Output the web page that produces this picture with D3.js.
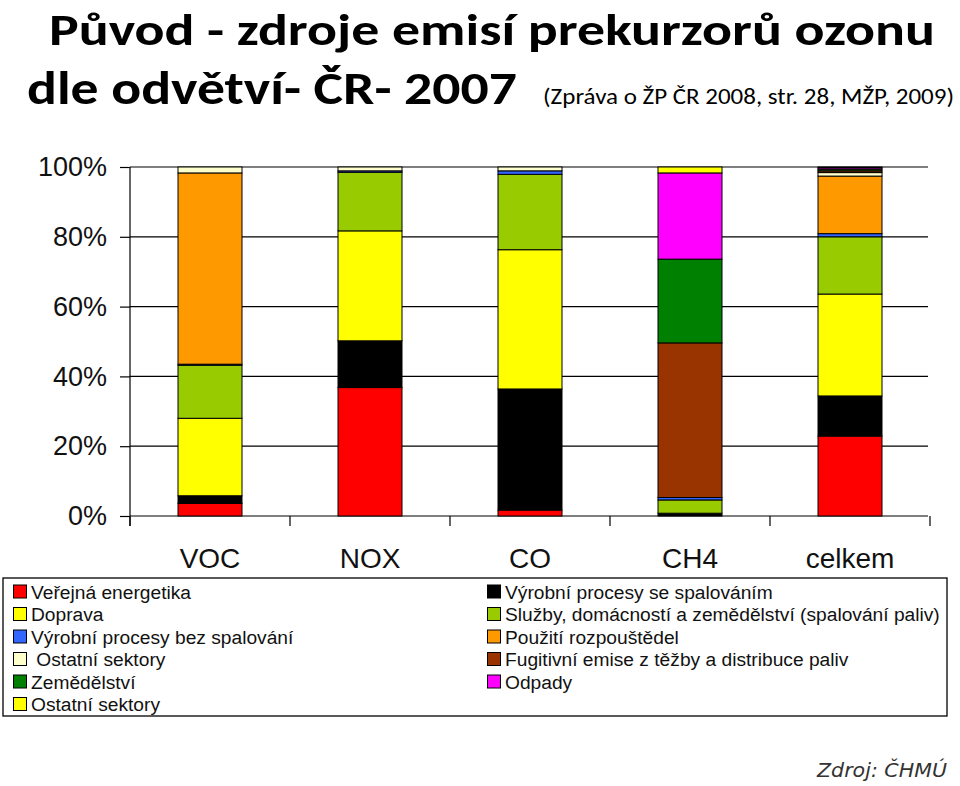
<!DOCTYPE html>
<html>
<head>
<meta charset="utf-8">
<script src="https://cdn.jsdelivr.net/npm/d3@7"></script>
<style>
  html, body { margin: 0; padding: 0; background: #fff; }
  svg { display: block; }
</style>
</head>
<body>
<svg id="chart" width="960" height="786"></svg>
<script>
// ---- DATA ----
const categories = ["VOC", "NOX", "CO", "CH4", "celkem"];
const seriesNames = [
  "Veřejná energetika",
  "Výrobní procesy se spalováním",
  "Doprava",
  "Služby, domácností a zemědělství (spalování paliv)",
  "Výrobní procesy bez spalování",
  "Použití rozpouštědel",
  " Ostatní sektory",
  "Fugitivní emise z těžby a distribuce paliv",
  "Zemědělství",
  "Odpady",
  "Ostatní sektory"
];
const seriesColors = ["#FF0000", "#000000", "#FFFF00", "#99CC00", "#3366FF", "#FF9900",
                      "#FFFFCC", "#993300", "#008000", "#FF00FF", "#FFFF00"];
// percent shares per category (VOC, NOX, CO, CH4, celkem)
const verejnaEnergetika   = [3.6, 36.8, 1.7, 0.0, 22.9];
const vyrobniSeSpalovanim = [2.2, 13.4, 34.7, 0.8, 11.5];
const doprava             = [22.2, 31.5, 39.9, 0.0, 29.2];
const sluzby              = [15.2, 16.8, 21.6, 3.8, 16.4];
const vyrobniBezSpalovani = [0.3, 0.4, 1.0, 0.7, 0.9];
const rozpoustedla        = [54.8, 0.0, 0.0, 0.0, 16.5];
const ostatniSektory1     = [1.7, 1.1, 1.1, 0.0, 1.0];
const fugitivni           = [0.0, 0.0, 0.0, 44.3, 0.5];
const zemedelstvi         = [0.0, 0.0, 0.0, 24.0, 0.5];
const odpady              = [0.0, 0.0, 0.0, 24.7, 0.4];
const ostatniSektory2     = [0.0, 0.0, 0.0, 1.7, 0.2];
const seriesValues = [verejnaEnergetika, vyrobniSeSpalovanim, doprava, sluzby, vyrobniBezSpalovani,
                      rozpoustedla, ostatniSektory1, fugitivni, zemedelstvi, odpady, ostatniSektory2];
const yTicks = [0, 20, 40, 60, 80, 100];
const titleLine1 = "Původ - zdroje emisí prekurzorů ozonu";
const titleLine2 = "dle odvětví- ČR- 2007";
const subtitle = "(Zpráva o ŽP ČR 2008, str. 28, MŽP, 2009)";
const sourceText = "Zdroj: ČHMÚ";

// ---- BUILD TABLE ----
const keys = seriesNames.map((_, i) => "s" + i);
const table = categories.map((c, ci) => {
  const row = { cat: c };
  keys.forEach((k, si) => row[k] = seriesValues[si][ci]);
  return row;
});
const stacked = d3.stack().keys(keys)(table);

const svg = d3.select("#chart");

// ---- TITLE ----
svg.append("text")
  .attr("x", 49).attr("y", 44.5)
  .attr("font-family", "Carlito, Lato, 'Open Sans', sans-serif")
  .attr("font-weight", "bold").attr("font-size", 45)
  .attr("textLength", 886).attr("lengthAdjust", "spacingAndGlyphs")
  .text(titleLine1);
svg.append("text")
  .attr("x", 27).attr("y", 104)
  .attr("font-family", "Carlito, Lato, 'Open Sans', sans-serif")
  .attr("font-weight", "bold").attr("font-size", 47)
  .attr("textLength", 490).attr("lengthAdjust", "spacingAndGlyphs")
  .text(titleLine2);
svg.append("text")
  .attr("x", 543).attr("y", 104)
  .attr("font-family", "Carlito, Lato, 'Open Sans', sans-serif")
  .attr("font-size", 22)
  .attr("textLength", 411).attr("lengthAdjust", "spacingAndGlyphs")
  .text(subtitle);

// ---- SCALES ----
const x = d3.scaleBand().domain(categories).range([130, 930]).paddingInner(0.6).paddingOuter(0.3);
const y = d3.scaleLinear().domain([0, 100]).range([516, 167]);

// gridlines
svg.append("g").selectAll("line").data(yTicks).join("line")
  .attr("x1", 130).attr("x2", 928)
  .attr("y1", d => y(d)).attr("y2", d => y(d))
  .attr("stroke", "#000").attr("stroke-width", 1.2);

// y axis
const yAxis = d3.axisLeft(y).tickValues(yTicks).tickSize(10).tickPadding(13)
  .tickFormat(d => d + "%");
const gy = svg.append("g").attr("transform", "translate(130,0)").call(yAxis);
gy.select(".domain").remove();
gy.selectAll(".tick line").attr("stroke", "#000").attr("stroke-width", 1.2);
gy.selectAll(".tick text")
  .attr("font-family", "'Liberation Sans', Arial, sans-serif")
  .attr("font-size", 27).attr("fill", "#111");
svg.append("line").attr("x1", 130).attr("x2", 130).attr("y1", 167).attr("y2", 526)
  .attr("stroke", "#000").attr("stroke-width", 1.2);

// x axis ticks at band boundaries
const bounds = d3.range(categories.length + 1).map(i => x.range()[0] + i * x.step());
svg.append("g").selectAll("line").data(bounds).join("line")
  .attr("x1", d => d).attr("x2", d => d).attr("y1", 516).attr("y2", 526)
  .attr("stroke", "#000").attr("stroke-width", 1.2);
svg.append("g").selectAll("text").data(categories).join("text")
  .attr("x", d => x(d) + x.bandwidth() / 2).attr("y", 568)
  .attr("text-anchor", "middle")
  .attr("font-family", "'Liberation Sans', Arial, sans-serif")
  .attr("font-size", 28).attr("fill", "#111")
  .text(d => d);

// ---- BARS ----
svg.append("g").selectAll("g").data(stacked).join("g")
  .attr("fill", (d, i) => seriesColors[i])
  .selectAll("rect").data(d => d.filter(p => p[1] - p[0] > 0)).join("rect")
  .attr("x", p => x(p.data.cat))
  .attr("width", x.bandwidth())
  .attr("y", p => y(p[1]))
  .attr("height", p => y(p[0]) - y(p[1]))
  .attr("stroke", "#000").attr("stroke-width", 1);

// ---- LEGEND ----
svg.append("rect").attr("x", 3).attr("y", 578).attr("width", 944).attr("height", 138)
  .attr("fill", "none").attr("stroke", "#000").attr("stroke-width", 1.3);
const legend = svg.append("g").selectAll("g").data(seriesNames).join("g")
  .attr("transform", (d, i) => {
    const col = i % 2, row = Math.floor(i / 2);
    return `translate(${col === 0 ? 13.5 : 487.5},${591.5 + row * 22.5})`;
  });
legend.append("rect").attr("x", 0).attr("y", -6.5).attr("width", 13).attr("height", 13)
  .attr("fill", (d, i) => seriesColors[i]).attr("stroke", "#000").attr("stroke-width", 1);
legend.append("text").attr("x", 17.5).attr("y", 7)
  .attr("font-family", "'Liberation Sans', Arial, sans-serif")
  .attr("font-size", 19.2).attr("fill", "#111")
  .style("white-space", "pre")
  .text(d => d);

// ---- SOURCE ----
svg.append("text").attr("x", 817).attr("y", 777)
  .attr("font-family", "'DejaVu Sans', Verdana, sans-serif")
  .attr("font-style", "italic").attr("font-size", 19.5).attr("fill", "#333")
  .attr("textLength", 130).attr("lengthAdjust", "spacingAndGlyphs")
  .text(sourceText);
</script>
</body>
</html>
